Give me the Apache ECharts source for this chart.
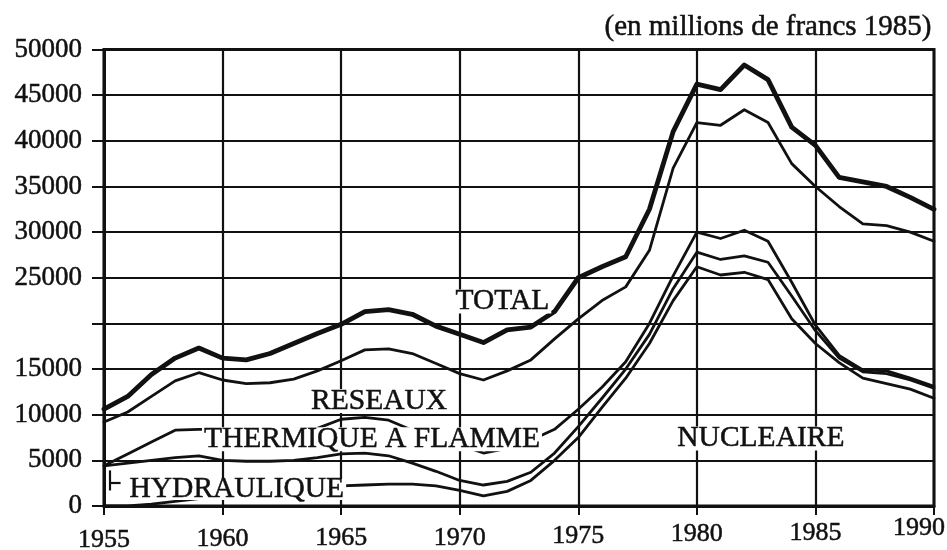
<!DOCTYPE html>
<html>
<head>
<meta charset="utf-8">
<script src="https://cdn.jsdelivr.net/npm/echarts@6/dist/echarts.min.js"></script>
<style>
  html, body { margin: 0; padding: 0; background: #fff; }
  #chart { width: 947px; height: 550px; }
</style>
</head>
<body>
<div id="chart"></div>
<script>
// ---- data (cumulative levels, millions de francs 1985) ----
const years = [1955,1956,1957,1958,1959,1960,1961,1962,1963,1964,1965,1966,1967,1968,1969,1970,1971,1972,
               1973,1974,1975,1976,1977,1978,1979,1980,1981,1982,1983,1984,1985,1986,1987,1988,1989,1990];

// top of the NUCLEAIRE band (lowest line)
const lineNucleaire = [0,0,200,500,800,1000,800,1000,1300,1800,2200,2300,2400,2400,2200,1700,1100,1600,
                       2800,5000,7500,10800,14000,17800,22500,26200,25300,25600,24800,20500,17800,15700,14000,13400,12800,11800];
// top of the HYDRAULIQUE band
const lineHydraulique = [4400,4700,5000,5300,5500,5000,4900,4900,5000,5300,5700,5800,5500,4700,3800,2800,2300,2700,
                         3700,5800,8700,11800,15000,18800,23800,27800,27000,27400,26700,23000,19200,16200,14700,14500,13800,12900];
// top of the THERMIQUE A FLAMME band
const lineThermique = [4400,5700,7000,8300,8400,8400,8400,8400,8400,8500,9500,9700,9400,8300,7600,6700,5800,6300,
                       7200,8400,10600,13000,15800,20000,25200,30000,29300,30200,29000,24500,19800,16500,14900,14800,14000,13100];
// top of the RESEAUX band
const lineReseaux = [9200,10300,12000,13700,14600,13800,13400,13500,13900,14800,15900,17100,17200,16700,15600,14500,13800,14800,
                     16000,18300,20500,22500,24000,28000,37000,42000,41700,43400,42000,37500,35000,32800,30900,30700,30000,29000];
// TOTAL
const lineTotal = [10600,12000,14400,16200,17300,16200,16000,16700,17800,18900,19900,21300,21500,21000,19700,18800,17900,19300,
                   19600,21300,25000,26200,27300,32500,41000,46200,45600,48300,46700,41500,39500,36000,35500,35000,33800,32500];

const xTicks = [1955,1960,1965,1970,1975,1980,1985,1990];
const yTicks = [0,5000,10000,15000,20000,25000,30000,35000,40000,45000,50000];
const hiddenYTick = 20000;

const bandLabels = [
  { text: 'TOTAL',              year: 1971.8, value: 22400, lh: 24 },
  { text: 'RESEAUX',            year: 1966.6, value: 11500, lh: 24 },
  { text: 'THERMIQUE A FLAMME', year: 1966.3, value: 7300,  lh: 24 },
  { text: 'HYDRAULIQUE',        year: 1960.6, value: 1800,  lh: 21 },
  { text: 'NUCLEAIRE',          year: 1982.7, value: 7400,  lh: 24 }
];
const titleText = '(en millions de francs 1985)';

// ---- chart ----
const INK = '#111';
const SERIF = '"Liberation Serif", "Times New Roman", serif';
const pairs = arr => years.map((y, i) => [y, arr[i]]);

function lineSeries(name, arr, width) {
  return {
    name, type: 'line', data: pairs(arr), symbol: 'none', smooth: false,
    lineStyle: { color: INK, width: width, join: 'round', cap: 'round' },
    z: 2, silent: true, animation: false
  };
}

const chart = echarts.init(document.getElementById('chart'), null, { renderer: 'canvas' });

const series = [
  lineSeries('NUCLEAIRE', lineNucleaire, 2.8),
  lineSeries('HYDRAULIQUE', lineHydraulique, 2.8),
  lineSeries('THERMIQUE A FLAMME', lineThermique, 2.8),
  lineSeries('RESEAUX', lineReseaux, 2.8),
  lineSeries('TOTAL', lineTotal, 4.8)
];
series[4].markPoint = {
  symbol: 'rect', symbolSize: 1, silent: true, animation: false,
  itemStyle: { color: 'rgba(0,0,0,0)' },
  data: bandLabels.map(l => ({
    coord: [l.year, l.value],
    label: {
      show: true, position: 'inside', formatter: l.text,
      fontFamily: SERIF, fontSize: 29.5, color: INK,
      textBorderColor: INK, textBorderWidth: 0.5,
      backgroundColor: '#fff', padding: [1, 2, -1, 2], lineHeight: l.lh
    }
  }))
};
// small leader bracket of the HYDRAULIQUE label
series[0].markLine = {
  symbol: 'none', silent: true, animation: false,
  lineStyle: { color: INK, width: 2.2, type: 'solid' },
  label: { show: false },
  data: [
    [{ coord: [1955.25, 3900] }, { coord: [1955.25, 1700] }],
    [{ coord: [1955.25, 2600] }, { coord: [1955.7, 2600] }]
  ]
};

// the scanned original is slightly tilted: later year labels sit a little higher
const xLabelStyle = (lh, padRight) => ({
  fontFamily: SERIF, fontSize: 26, color: INK, textBorderColor: INK, textBorderWidth: 0.5,
  lineHeight: lh, padding: [0, padRight, 0, 0]
});
const xRich = {
  a1955: xLabelStyle(26, 0), a1960: xLabelStyle(24, 0), a1965: xLabelStyle(22, 0),
  a1970: xLabelStyle(22, 0), a1975: xLabelStyle(18, 0), a1980: xLabelStyle(14, 0),
  a1985: xLabelStyle(12, 0), a1990: xLabelStyle(2, 30)
};

chart.setOption({
  animation: false,
  backgroundColor: '#fff',
  title: {
    text: titleText, right: 10, top: 8,
    textStyle: { fontFamily: SERIF, fontSize: 29, fontWeight: 'normal', color: INK,
                 textBorderColor: INK, textBorderWidth: 0.5 }
  },
  grid: { left: 104, right: 13, top: 49.5, bottom: 44, containLabel: false, outerBoundsMode: 'none',
          show: true, borderColor: INK, borderWidth: 3, backgroundColor: 'transparent' },
  xAxis: {
    type: 'value', min: xTicks[0], max: xTicks[xTicks.length - 1], interval: 5,
    axisLine: { show: true, lineStyle: { color: INK, width: 3 } },
    axisTick: { show: true, length: 9, lineStyle: { color: INK, width: 2 } },
    splitLine: { show: true, lineStyle: { color: INK, width: 2.2 } },
    axisLabel: {
      color: INK, fontFamily: SERIF, fontSize: 26, margin: 21,
      formatter: v => '{a' + v + '|' + v + '}',
      rich: xRich
    }
  },
  yAxis: {
    type: 'value', min: yTicks[0], max: yTicks[yTicks.length - 1], interval: 5000,
    axisLine: { show: true, lineStyle: { color: INK, width: 3 } },
    axisTick: { show: true, length: 12, lineStyle: { color: INK, width: 2 } },
    splitLine: { show: true, lineStyle: { color: INK, width: 2.2 } },
    axisLabel: {
      color: INK, fontFamily: SERIF, fontSize: 27, margin: 22, padding: [6, 0, 0, 0],
      textBorderColor: INK, textBorderWidth: 0.5,
      formatter: v => (v === hiddenYTick ? '' : String(v))
    }
  },
  series
});
</script>
</body>
</html>
